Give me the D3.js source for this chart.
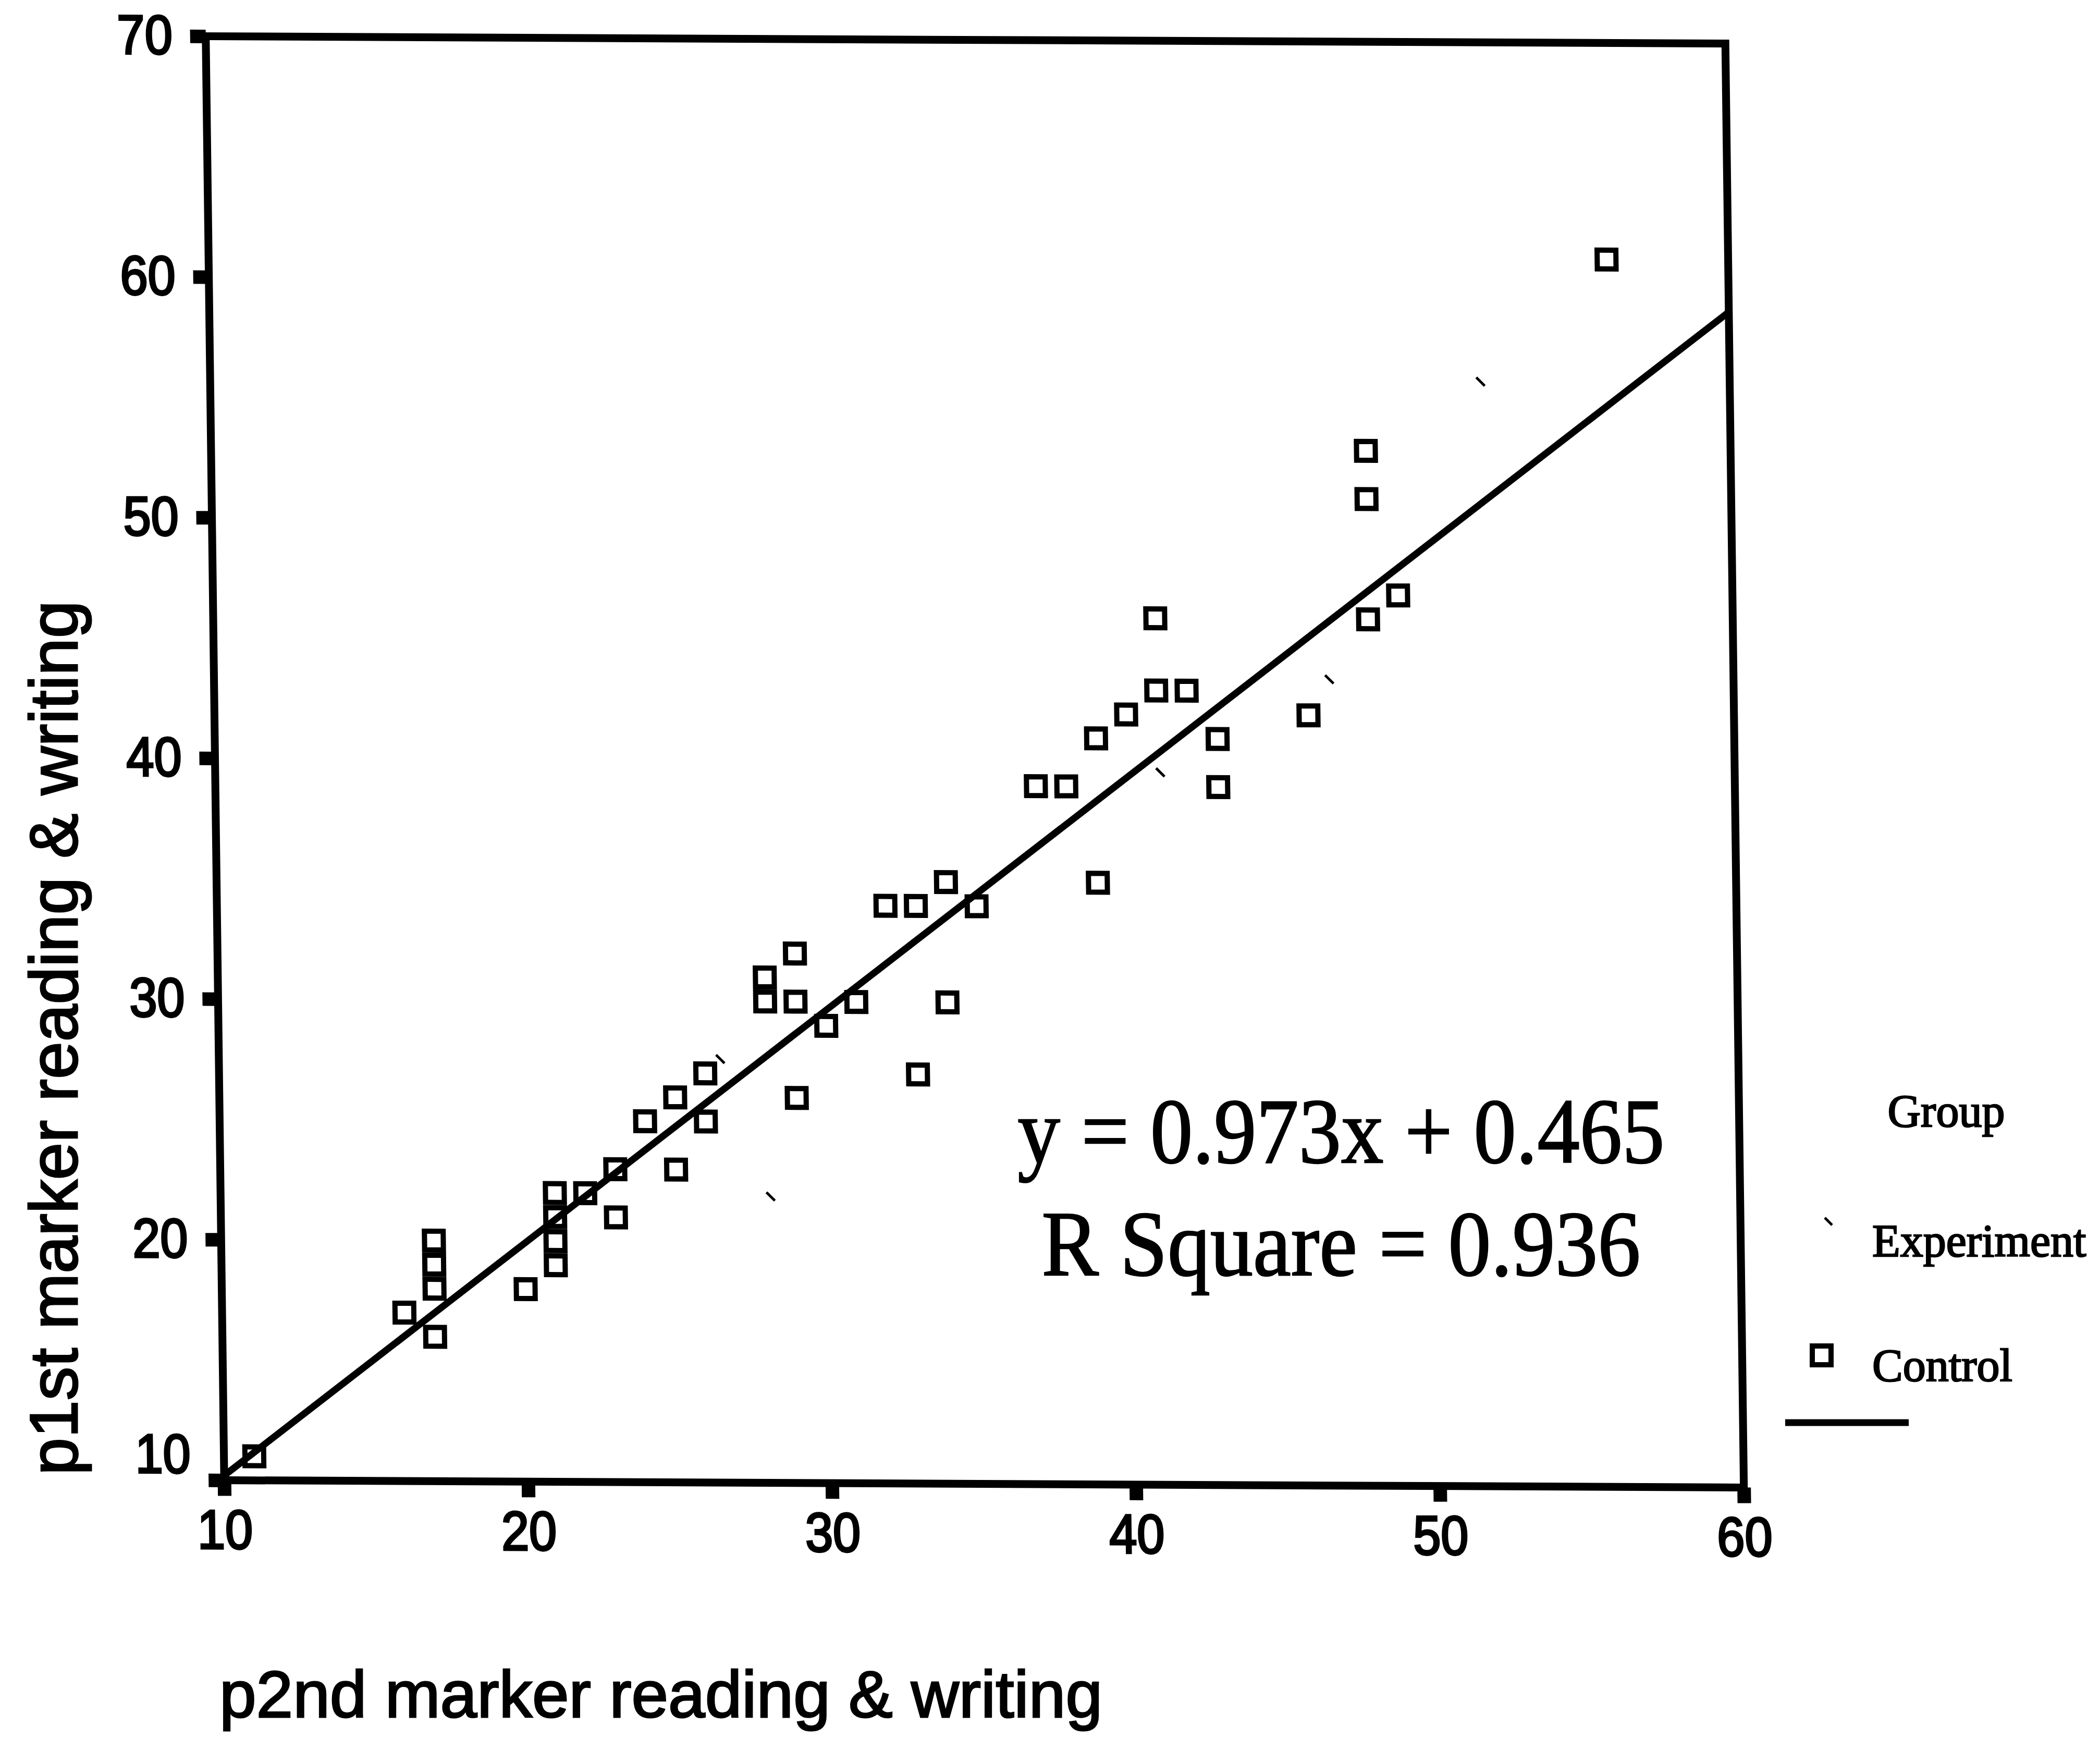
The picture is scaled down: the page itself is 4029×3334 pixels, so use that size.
<!DOCTYPE html>
<html>
<head>
<meta charset="utf-8">
<script src="https://cdn.jsdelivr.net/npm/d3@7"></script>
<style>
  html, body { margin: 0; padding: 0; background: #fff; }
  svg { display: block; }
</style>
</head>
<body>
<script>
// Control group: second-marker score (x) and first-marker score (y)
const controlX = [11,16,17,17,17,17,20,21,21,21,21,22,23,23,24,25,25,26,26,28,28,29,29,29,30,31,32,33,33,34,34,35,37,38,39,39,40,41,41,42,43,43,46,48,48,48,49,56];
const controlY = [11,17,20,19,18,16,18,22,21,20,19,22,23,21,25,26,23,27,25,31,30,32,30,26,29,30,34,34,27,35,30,34,39,39,41,35,42,46,43,43,41,39,42,53,51,46,47,61];

// Experiment group (tiny tick markers)
const experimentX = [51.8, 46.7, 41.1, 26.5, 28.1];
const experimentY = [55.9, 43.5, 39.6, 27.6, 21.9];

// Fitted line
const slope = 0.973;
const intercept = 0.465;
const rSquare = 0.936;

const xTicks = [10, 20, 30, 40, 50, 60];
const yTicks = [10, 20, 30, 40, 50, 60, 70];
const groupNames = ["Experiment", "Control"];

const W = 4029, H = 3334;
const plotW = 2915.5, plotH = 2770;
const sans = "'Liberation Sans', Arial, sans-serif";
const serif = "'Liberation Serif', 'Times New Roman', serif";

const svg = d3.select("body").append("svg")
  .attr("width", W).attr("height", H);
svg.append("rect").attr("width", W).attr("height", H).attr("fill", "#fff");

const x = d3.scaleLinear().domain([10, 60]).range([0, plotW]);
const y = d3.scaleLinear().domain([10, 70]).range([plotH, 0]);

// The printed plot frame sits slightly sheared on the page
const plot = svg.append("g")
  .attr("transform", "matrix(1,0.0048,0.0128,1,394.75,69.5)");

// Axes with short, heavy tick stubs
const gx = plot.append("g")
  .attr("transform", `translate(0,${plotH})`)
  .call(d3.axisBottom(x).tickValues(xTicks).tickSize(30).tickSizeOuter(0).tickPadding(26));
const gy = plot.append("g")
  .call(d3.axisLeft(y).tickValues(yTicks).tickSize(30).tickSizeOuter(0).tickPadding(36));

const digitScale = 0.9;
[gx, gy].forEach(g => {
  g.select(".domain").remove();
  g.selectAll(".tick line").attr("stroke", "#000").attr("stroke-width", 26);
  g.selectAll(".tick text")
    .attr("font-family", sans).attr("font-size", 106)
    .attr("fill", "#000").attr("stroke", "#000").attr("stroke-width", 4)
    .attr("transform", `scale(${digitScale},1)`);
});
gy.selectAll(".tick text").attr("x", -64 / digitScale);
// lowest y label is lifted clear of the x labels
gy.selectAll(".tick text").filter(d => d === 10).attr("y", -48);

// Frame
plot.append("rect")
  .attr("x", 0).attr("y", 0).attr("width", plotW).attr("height", plotH)
  .attr("fill", "none").attr("stroke", "#000").attr("stroke-width", 15);

// Control markers: hollow squares
const sq = 36;
plot.append("g").selectAll("rect")
  .data(d3.zip(controlX, controlY))
  .join("rect")
  .attr("x", d => x(d[0]) - sq / 2)
  .attr("y", d => y(d[1]) - sq / 2)
  .attr("width", sq).attr("height", sq)
  .attr("fill", "none").attr("stroke", "#000").attr("stroke-width", 10);

// Experiment markers: tiny diagonal ticks
plot.append("g").selectAll("line")
  .data(d3.zip(experimentX, experimentY))
  .join("line")
  .attr("x1", d => x(d[0]) - 8).attr("y1", d => y(d[1]) - 8)
  .attr("x2", d => x(d[0]) + 8).attr("y2", d => y(d[1]) + 8)
  .attr("stroke", "#000").attr("stroke-width", 5);

// Regression line across the x range
const fitLine = d3.line().x(d => x(d)).y(d => y(slope * d + intercept));
plot.append("path")
  .datum(x.domain())
  .attr("d", fitLine)
  .attr("fill", "none").attr("stroke", "#000").attr("stroke-width", 13);

// Equation and fit statistic
const eq = svg.append("g")
  .attr("font-family", serif).attr("font-size", 178)
  .attr("fill", "#000").attr("stroke", "#000").attr("stroke-width", 2.5)
  .attr("text-anchor", "middle");
eq.append("text").attr("x", 2573).attr("y", 2230)
  .attr("textLength", 1241).attr("lengthAdjust", "spacingAndGlyphs")
  .text(`y = ${slope}x + ${intercept}`);
eq.append("text").attr("x", 2573).attr("y", 2446)
  .attr("textLength", 1149).attr("lengthAdjust", "spacingAndGlyphs")
  .text(`R Square = ${rSquare}`);

// Axis titles
svg.append("text")
  .attr("x", 1268).attr("y", 3294)
  .attr("text-anchor", "middle")
  .attr("font-family", sans).attr("font-size", 127)
  .attr("fill", "#000").attr("stroke", "#000").attr("stroke-width", 3)
  .text("p2nd marker reading & writing");
svg.append("text")
  .attr("transform", "translate(148,1991) rotate(-90)")
  .attr("text-anchor", "middle")
  .attr("font-family", sans).attr("font-size", 129)
  .attr("fill", "#000").attr("stroke", "#000").attr("stroke-width", 3)
  .text("p1st marker reading & writing");

// Legend
const legend = svg.append("g")
  .attr("font-family", serif).attr("font-size", 88)
  .attr("fill", "#000").attr("stroke", "#000").attr("stroke-width", 2.5);
legend.append("text").attr("x", 3734).attr("y", 2161)
  .attr("text-anchor", "middle").text("Group");
legend.append("line")
  .attr("x1", 3501).attr("y1", 2336).attr("x2", 3515).attr("y2", 2350)
  .attr("stroke-width", 5);
legend.append("text").attr("x", 3592).attr("y", 2410).text(groupNames[0]);
legend.append("rect")
  .attr("x", 3495 - sq / 2).attr("y", 2600 - sq / 2)
  .attr("width", sq).attr("height", sq)
  .attr("fill", "none").attr("stroke-width", 10);
legend.append("text").attr("x", 3592).attr("y", 2649).text(groupNames[1]);
legend.append("line")
  .attr("x1", 3425).attr("y1", 2729).attr("x2", 3662).attr("y2", 2729)
  .attr("stroke-width", 13);
</script>
</body>
</html>
